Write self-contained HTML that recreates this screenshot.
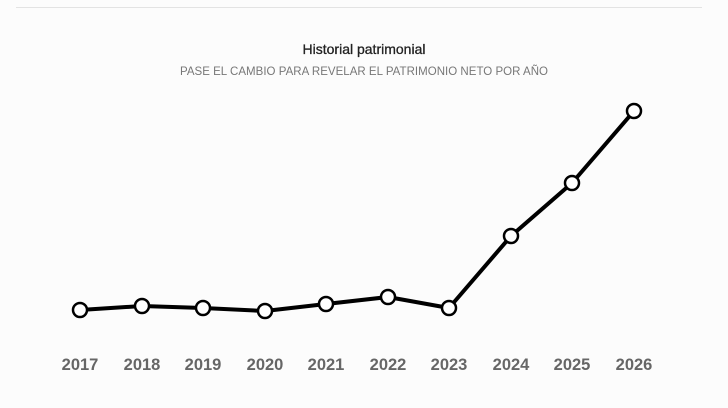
<!DOCTYPE html>
<html><head><meta charset="utf-8"><style>
html,body{margin:0;padding:0;background:#fcfcfc;}
body{width:728px;height:408px;overflow:hidden;position:relative;font-family:"Liberation Sans",sans-serif;}
</style></head><body>
<svg width="728" height="408" xmlns="http://www.w3.org/2000/svg" style="position:absolute;left:0;top:0">
<line x1="16" y1="7.5" x2="702" y2="7.5" stroke="#e3e3e3" stroke-width="1"/>
<text x="364" y="54" text-anchor="middle" font-size="14" fill="#222" stroke="#222" stroke-width="0.3" font-family="Liberation Sans, sans-serif">Historial patrimonial</text>
<text x="364" y="75" text-anchor="middle" font-size="11.5" fill="#777" textLength="368" font-family="Liberation Sans, sans-serif">PASE EL CAMBIO PARA REVELAR EL PATRIMONIO NETO POR AÑO</text>
<polyline fill="none" stroke="#000" stroke-width="4" stroke-linejoin="round" points="80,310 142,306 203,308 265,311 326,304 388,297 449,308 511,236 572,183 634,111"/>
<g fill="#fff" stroke="#000" stroke-width="2.5">
<circle cx="80" cy="310" r="7"/><circle cx="142" cy="306" r="7"/><circle cx="203" cy="308" r="7"/><circle cx="265" cy="311" r="7"/><circle cx="326" cy="304" r="7"/><circle cx="388" cy="297" r="7"/><circle cx="449" cy="308" r="7"/><circle cx="511" cy="236" r="7"/><circle cx="572" cy="183" r="7"/><circle cx="634" cy="111" r="7"/>
</g>
<g font-size="16.5" font-weight="bold" fill="#666" text-anchor="middle" font-family="Liberation Sans, sans-serif">
<text x="80" y="370">2017</text><text x="142" y="370">2018</text><text x="203" y="370">2019</text><text x="265" y="370">2020</text><text x="326" y="370">2021</text><text x="388" y="370">2022</text><text x="449" y="370">2023</text><text x="511" y="370">2024</text><text x="572" y="370">2025</text><text x="634" y="370">2026</text>
</g>
</svg>
</body></html>
